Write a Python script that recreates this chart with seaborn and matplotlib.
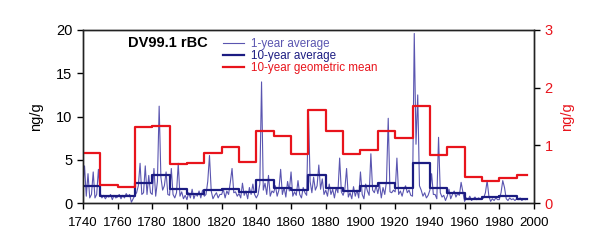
import numpy as np
import pandas as pd
import matplotlib
matplotlib.use("Agg")
import matplotlib.pyplot as plt
import seaborn as sns

# annual rBC (ng/g), 1740-1995
years = list(range(1740, 1996))
annual = [
    1.8, 4.3, 0.8, 3.4, 0.6, 1.0, 3.6, 0.6, 1.0, 3.9,
    1.2, 0.6, 0.9, 0.5, 0.8, 0.7, 1.0, 0.4, 0.9, 0.6,
    0.7, 1.0, 0.5, 0.9, 0.6, 1.1, 0.8, 1.0, 0.1, 0.5,
    0.9, 1.2, 2.0, 4.6, 1.0, 1.2, 4.3, 1.0, 3.2, 1.2,
    1.0, 4.0, 0.8, 2.5, 11.2, 3.0, 1.5, 2.0, 3.6, 1.0,
    0.9, 4.0, 1.0, 0.6, 1.2, 4.6, 0.8, 1.3, 0.5, 0.9,
    0.4, 1.2, 0.6, 1.6, 0.5, 1.1, 0.8, 1.4, 0.6, 1.5,
    0.8, 1.0, 2.5, 5.5, 1.4, 0.5, 0.9, 1.2, 0.6, 1.0,
    1.0, 1.6, 0.6, 1.4, 1.0, 2.4, 4.0, 1.2, 1.3, 0.8,
    1.1, 0.6, 2.3, 0.9, 1.4, 0.5, 1.8, 1.0, 2.2, 1.0,
    0.6, 1.0, 2.2, 14.0, 1.5, 2.3, 1.0, 3.2, 0.8, 1.4,
    1.2, 2.0, 0.8, 1.5, 3.9, 1.0, 1.8, 0.7, 2.5, 1.4,
    3.6, 0.8, 1.3, 0.9, 2.6, 1.0, 0.6, 1.8, 1.2, 0.9,
    10.8, 2.5, 1.2, 3.0, 1.5, 2.0, 4.4, 1.6, 2.8, 1.0,
    1.5, 0.8, 2.2, 1.0, 1.6, 0.6, 1.8, 1.2, 5.2, 1.3,
    0.9, 1.6, 4.0, 0.7, 1.2, 0.5, 1.9, 0.8, 1.5, 0.6,
    3.6, 1.0, 0.5, 2.2, 1.4, 0.9, 5.7, 1.5, 1.2, 2.0,
    1.1, 2.2, 0.6, 1.8, 1.0, 2.5, 9.8, 1.3, 1.2, 1.5,
    1.3, 5.2, 1.0, 1.4, 0.8, 1.6, 2.0, 1.2, 1.5, 0.9,
    0.8, 19.6, 6.8, 12.5, 2.0, 1.5, 0.8, 1.2, 0.6, 0.9,
    1.5, 3.4, 1.0, 1.0, 0.5, 7.6, 1.2, 0.7, 0.9, 0.3,
    0.8, 1.6, 0.5, 1.0, 1.4, 0.7, 1.1, 0.9, 2.4, 1.3,
    0.2, 0.6, 0.4, 0.8, 0.3, 0.5, 0.7, 0.4, 0.6, 0.5,
    0.5, 0.6, 1.2, 2.6, 0.8, 0.2, 0.5, 0.3, 0.6, 0.4,
    0.4, 1.2, 2.6, 1.8, 0.5, 0.3, 0.6, 0.4, 0.5, 0.3,
    0.5, 0.4, 0.6, 0.3, 0.5, 0.4,
]

# decade edges
edges = [1740, 1750, 1760, 1770, 1780, 1790, 1800, 1810, 1820, 1830, 1840,
         1850, 1860, 1870, 1880, 1890, 1900, 1910, 1920, 1930, 1940, 1950,
         1960, 1970, 1980, 1990, 1996]
avg10 = [1.95, 0.8, 0.8, 2.3, 3.2, 1.6, 1.05, 1.5, 1.6, 1.3, 2.7,
         1.7, 1.5, 3.2, 1.8, 1.4, 2.0, 2.3, 1.7, 4.6, 1.7, 1.2,
         0.5, 0.75, 0.8, 0.45]
geo10 = [0.86, 0.31, 0.28, 1.32, 1.33, 0.68, 0.70, 0.87, 0.97, 0.71, 1.25,
         1.16, 0.85, 1.61, 1.25, 0.85, 0.92, 1.25, 1.13, 1.68, 0.83, 0.98,
         0.46, 0.39, 0.43, 0.49]

c_thin = "#5a55b0"
c_navy = "#1c1c82"
c_red = "#e8141c"

plt.rcParams['font.family'] = ['Liberation Sans', 'DejaVu Sans']

fig = plt.figure(figsize=(6, 2.52), dpi=100)
ax = fig.add_axes([0.138, 0.194, 0.752, 0.687])

sns.lineplot(x=years, y=annual, ax=ax, color=c_thin, lw=0.8,
             label="1-year average")
sns.lineplot(x=edges, y=avg10 + [avg10[-1]], ax=ax, color=c_navy, lw=1.6,
             drawstyle="steps-post", label="10-year average")

ax2 = ax.twinx()
sns.lineplot(x=edges, y=geo10 + [geo10[-1]], ax=ax2, color=c_red, lw=1.6,
             drawstyle="steps-post", label="10-year geometric mean")

ax.set_xlim(1740, 2000)
ax.set_ylim(0, 20)
ax2.set_ylim(0, 3)
ax.set_xticks(range(1740, 2001, 20))
ax.set_yticks([0, 5, 10, 15, 20])
ax2.set_yticks([0, 1, 2, 3])

ax.tick_params(direction="out", length=4, width=1, labelsize=10.5)
ax.tick_params(axis="x", labelsize=9.5, pad=6)
ax2.tick_params(direction="out", length=4, width=1, labelsize=10.5,
                labelcolor=c_red)
for a in (ax, ax2):
    for s in a.spines.values():
        s.set_linewidth(1.0)
        s.set_color("#222222")

ax.set_ylabel("ng/g", fontsize=10.5)
ax.yaxis.set_label_coords(-0.088, 0.5)
ax2.set_ylabel("ng/g", fontsize=10.5, color=c_red, rotation=90)
ax2.yaxis.set_label_coords(1.058, 0.5)

ax.text(0.10, 0.925, "DV99.1 rBC", transform=ax.transAxes,
        fontsize=10.5, fontweight="bold", va="center")

h1, l1 = ax.get_legend_handles_labels()
h2, l2 = ax2.get_legend_handles_labels()
ax.get_legend().remove()
ax2.get_legend().remove()
ax2.legend(h1 + h2, l1 + l2, loc="upper left", bbox_to_anchor=(0.295, 0.995),
           frameon=False, fontsize=8.4, handlelength=1.8, handletextpad=0.6,
           labelspacing=0.0, borderaxespad=0.2, labelcolor="linecolor")

fig.savefig("out.png", dpi=100)
